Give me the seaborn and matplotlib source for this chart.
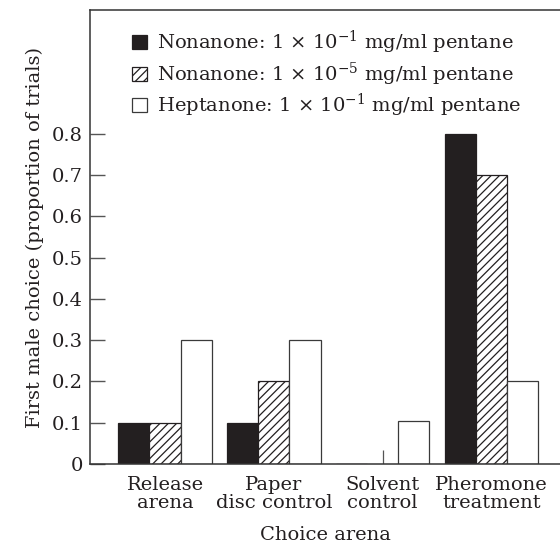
import matplotlib
matplotlib.use("Agg")
import matplotlib.pyplot as plt
import seaborn as sns
import pandas as pd

categories = ["Release\narena", "Paper\ndisc control", "Solvent\ncontrol", "Pheromone\ntreatment"]
series_labels = [
    r"Nonanone: 1 $\times$ 10$^{-1}$ mg/ml pentane",
    r"Nonanone: 1 $\times$ 10$^{-5}$ mg/ml pentane",
    r"Heptanone: 1 $\times$ 10$^{-1}$ mg/ml pentane",
]
nonanone_1 = [0.1, 0.1, 0.0, 0.8]
nonanone_5 = [0.1, 0.2, 0.035, 0.7]
heptanone_1 = [0.3, 0.3, 0.105, 0.2]
yticks = [0, 0.1, 0.2, 0.3, 0.4, 0.5, 0.6, 0.7, 0.8]
ytick_labels = ["0", "0.1", "0.2", "0.3", "0.4", "0.5", "0.6", "0.7", "0.8"]

sns.set_theme(style="white")
plt.rcParams["font.family"] = ["DejaVu Serif"]
plt.rcParams["mathtext.fontset"] = "dejavuserif"
plt.rcParams["hatch.color"] = "#231f20"
plt.rcParams["hatch.linewidth"] = 0.9

FS = 14
INK = "#231f20"

df = pd.DataFrame({
    "arena": categories * 3,
    "value": nonanone_1 + nonanone_5 + heptanone_1,
    "series": [series_labels[0]] * 4 + [series_labels[1]] * 4 + [series_labels[2]] * 4,
})

fig = plt.figure(figsize=(5.6, 5.47), dpi=100)
ax = fig.add_axes([90 / 560, (547 - 464) / 547, 1 - 90 / 560, (464 - 10) / 547])

palette = {series_labels[0]: INK, series_labels[1]: "white", series_labels[2]: "white"}
sns.barplot(data=df, x="arena", y="value", hue="series", hue_order=series_labels,
            order=categories, palette=palette, width=0.86, saturation=1,
            edgecolor="#3a3a3a", linewidth=0.9, legend=False, ax=ax, errorbar=None)

# style the hatched series
for p in ax.containers[1]:
    p.set_hatch("////")
    p.set_edgecolor(INK)
for p in ax.containers[0]:
    p.set_edgecolor(INK)

# tiny values drawn as a line (zero-width bar)
for p, v in zip(ax.containers[1], nonanone_5):
    if 0 < v < 0.05:
        cx = p.get_x() + p.get_width() / 2
        p.set_x(cx)
        p.set_width(0)
        p.set_hatch(None)
        p.set_edgecolor("#555555")

ax.set_xlim(-0.69, 3.63)
ax.set_ylim(0, 1.1)
ax.set_yticks(yticks)
ax.set_yticklabels(ytick_labels, fontsize=FS)
ax.tick_params(axis="y", direction="in", length=11, width=1.0, color="#555555", pad=5, left=True)
ax.tick_params(axis="x", length=0, pad=9, labelsize=FS)
for lbl in ax.get_xticklabels():
    lbl.set_linespacing(1.0)
    lbl.set_color(INK)
for lbl in ax.get_yticklabels():
    lbl.set_color(INK)

for side in ["left", "bottom", "top"]:
    ax.spines[side].set_visible(True)
    ax.spines[side].set_color("#333333")
    ax.spines[side].set_linewidth(1.1)
ax.spines["right"].set_visible(False)

ax.set_xlabel("Choice arena", fontsize=FS, color=INK, labelpad=10)
ax.set_ylabel("First male choice (proportion of trials)", fontsize=FS, color=INK, labelpad=6)

ax.legend(ax.containers, series_labels, loc="upper left", bbox_to_anchor=(0.09, 0.958),
          frameon=False, fontsize=FS, handlelength=0.75, handleheight=0.75,
          handletextpad=0.5, labelspacing=0.22, borderpad=0, borderaxespad=0,
          labelcolor=INK)

fig.savefig("out.png", dpi=100)
